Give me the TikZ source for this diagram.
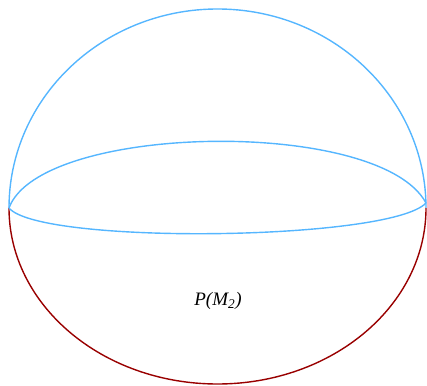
\documentclass[tikz,border=0pt]{standalone}
\usepackage{fontspec}
\setmainfont{Liberation Serif}
\usepackage{tikz}
\usetikzlibrary{positioning, calc}

\definecolor{skyline}{RGB}{85,182,255}
\definecolor{darkline}{RGB}{153,0,0}

\begin{document}
\begin{tikzpicture}[
        x=1pt, y=1pt,
        upper/.style={draw=skyline, line width=1.4pt},
        lower/.style={draw=darkline, line width=1.4pt},
        label/.style={font=\fontsize{19}{21}\selectfont\itshape}
    ]
        \useasboundingbox (0,0) rectangle (427,385);
        \coordinate (left) at (9,177);
        \coordinate (right) at (426,182);

        % sphere outline
        \draw[upper] (left) arc[start angle=180, end angle=0, x radius=208.5, y radius=199];
        \draw[lower] (left) arc[start angle=180, end angle=360, x radius=208.5, y radius=176];

        % equator
        \draw[upper] (left) .. controls (40,262) and (380,268) .. (right);
        \draw[upper] (left) .. controls (40,140) and (390,144) .. (right);

        \node[label] (pm) at (218,84) {P(M\textsubscript{2})};
    \end{tikzpicture}
\end{document}
